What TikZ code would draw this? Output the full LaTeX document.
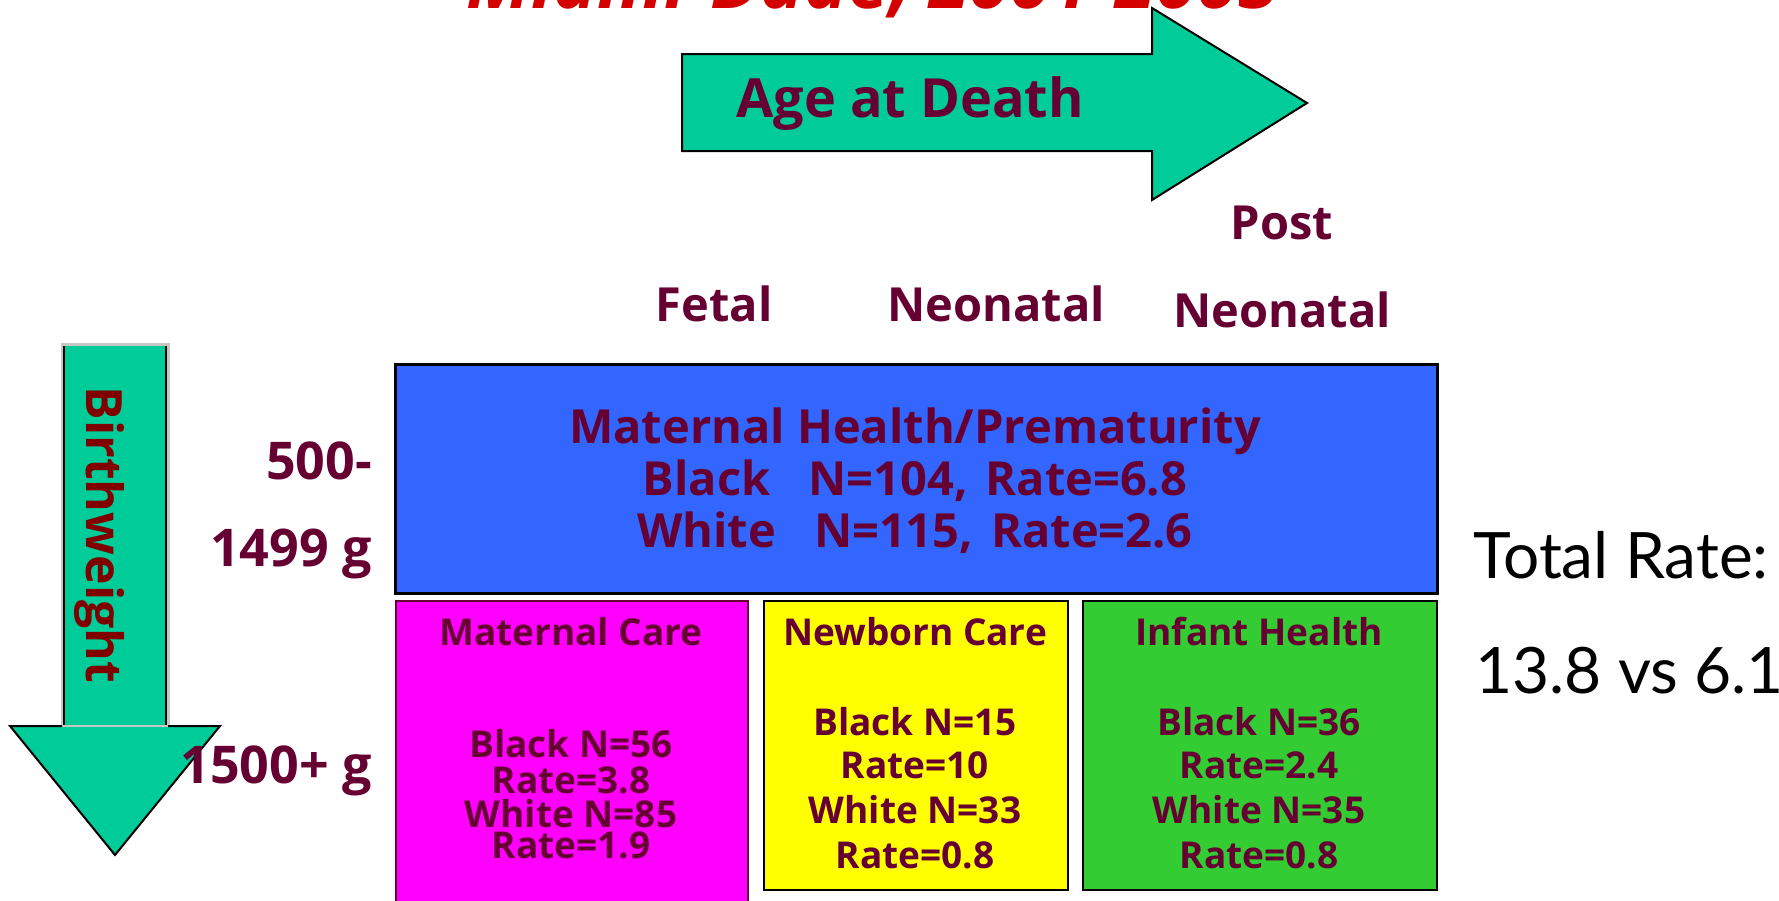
\documentclass[tikz,border=0pt]{standalone}
\usepackage{fontspec}
\setmainfont{Open Sans}
\newfontfamily\ratefont{Lato}
\definecolor{txt}{HTML}{660033}
\definecolor{bwred}{HTML}{800000}
\definecolor{arrowteal}{HTML}{00CC99}
\definecolor{bluebox}{HTML}{3366FF}
\definecolor{magbox}{HTML}{FF00FF}
\definecolor{yelbox}{HTML}{FFFF00}
\definecolor{grnbox}{HTML}{33CC33}
\definecolor{titlered}{HTML}{D40000}
\tikzset{
  lbl/.style={text=txt, inner sep=0pt, anchor=base, font=\bfseries\fontsize{47}{47}\selectfont},
  wlbl/.style={text=txt, inner sep=0pt, anchor=base east, font=\bfseries\fontsize{52}{52}\selectfont},
  bigtxt/.style={text=txt, inner sep=0pt, anchor=base, font=\bfseries\fontsize{47}{47}\selectfont},
  smalltxt/.style={text=txt, inner sep=0pt, anchor=base, font=\bfseries\fontsize{37}{37}\selectfont},
  ratetxt/.style={text=black, inner sep=0pt, anchor=base west, font=\ratefont\fontsize{64}{64}\selectfont},
  cbox/.style={inner sep=0pt, anchor=north west, line width=2pt},
  bigarrow/.style={fill=arrowteal, draw=black, line width=2pt, line join=miter}
}
\begin{document}
\begin{tikzpicture}[x=1pt,y=-1pt]
\path[use as bounding box, clip] (0,0) rectangle (1779,900);
\fill[white] (0,0) rectangle (1779,900);

% title (cut off at the top)
\node[text=titlered, inner sep=0pt, anchor=base west, font=\bfseries\itshape\fontsize{74}{74}\selectfont] (title) at (466,8) {Miami-Dade, 2001-2005};

% Age at Death arrow
\draw[bigarrow] (682,54) -- (1152,54) -- (1152,8) -- (1307,103) -- (1152,200) -- (1152,151) -- (682,151) -- cycle;
\node[text=txt, inner sep=0pt, anchor=base, font=\bfseries\fontsize{54}{54}\selectfont] (age) at (910,117) {Age at Death};

% column labels
\node[lbl] (fetal) at (714,321) {Fetal};
\node[lbl] (neo) at (996,321) {Neonatal};
\node[lbl] (post1) at (1282,239) {Post};
\node[lbl] (post2) at (1282,327) {Neonatal};

% Birthweight arrow
\fill[arrowteal] (62,344) -- (168,344) -- (168,726) -- (220,726) -- (115,855) -- (10,726) -- (62,726) -- cycle;
\draw[gray!45, line width=3pt] (62,726) -- (62,344) -- (168,344) -- (168,726);
\draw[black, line width=1.3pt] (64,726) -- (64,346);
\draw[black, line width=1.3pt] (166,726) -- (166,346);
\draw[black, line width=2pt, line join=miter] (62,726) -- (10,726) -- (115,855) -- (220,726) -- (168,726);
\draw[gray!45, line width=2pt] (62,726) -- (168,726);
\node[text=bwred, inner sep=0pt, anchor=base, rotate=-90, font=\bfseries\fontsize{50}{50}\selectfont] (bw) at (86,535) {Birthweight};

% weight labels
\node[wlbl] (w1) at (372,479) {500-};
\node[wlbl] (w2) at (372,566) {1499 g};
\node[wlbl] (w3) at (372,783) {1500+ g};

% boxes
\node[cbox, draw=black, line width=2.5pt, fill=bluebox, minimum width=1042pt, minimum height=229pt] (blue) at (394,363) {};
\node[cbox, draw=txt, line width=1.5pt, fill=magbox, minimum width=352pt, minimum height=320pt] (mag) at (395,600) {};
\node[cbox, draw=black, fill=yelbox, minimum width=304pt, minimum height=289pt] (yel) at (763,600) {};
\node[cbox, draw=black, fill=grnbox, minimum width=354pt, minimum height=289pt] (grn) at (1082,600) {};

% blue box text
\node[bigtxt] (b1) at (915,443) {Maternal Health/Prematurity};
\node[bigtxt] (b2) at (915,495) {Black\hspace{38pt}N=104,\hspace{18pt}Rate=6.8};
\node[bigtxt] (b3) at (915,547) {White\hspace{38pt}N=115,\hspace{18pt}Rate=2.6};

% magenta box text
\node[smalltxt] (m0) at (571,645) {Maternal Care};
\node[smalltxt] (m1) at (571,757) {Black N=56};
\node[smalltxt] (m2) at (571,793) {Rate=3.8};
\node[smalltxt] (m3) at (571,827) {White N=85};
\node[smalltxt] (m4) at (571,858) {Rate=1.9};

% yellow box text
\node[smalltxt] (y0) at (915,645) {Newborn Care};
\node[smalltxt] (y1) at (915,735) {Black N=15};
\node[smalltxt] (y2) at (915,778) {Rate=10};
\node[smalltxt] (y3) at (915,823) {White N=33};
\node[smalltxt] (y4) at (915,868) {Rate=0.8};

% green box text
\node[smalltxt] (g0) at (1259,645) {Infant Health};
\node[smalltxt] (g1) at (1259,735) {Black N=36};
\node[smalltxt] (g2) at (1259,778) {Rate=2.4};
\node[smalltxt] (g3) at (1259,823) {White N=35};
\node[smalltxt] (g4) at (1259,868) {Rate=0.8};

% total rate
\node[ratetxt] (tr1) at (1473,578) {Total Rate:};
\node[ratetxt] (tr2) at (1475,693) {13.8 vs 6.1};
\end{tikzpicture}
\end{document}
